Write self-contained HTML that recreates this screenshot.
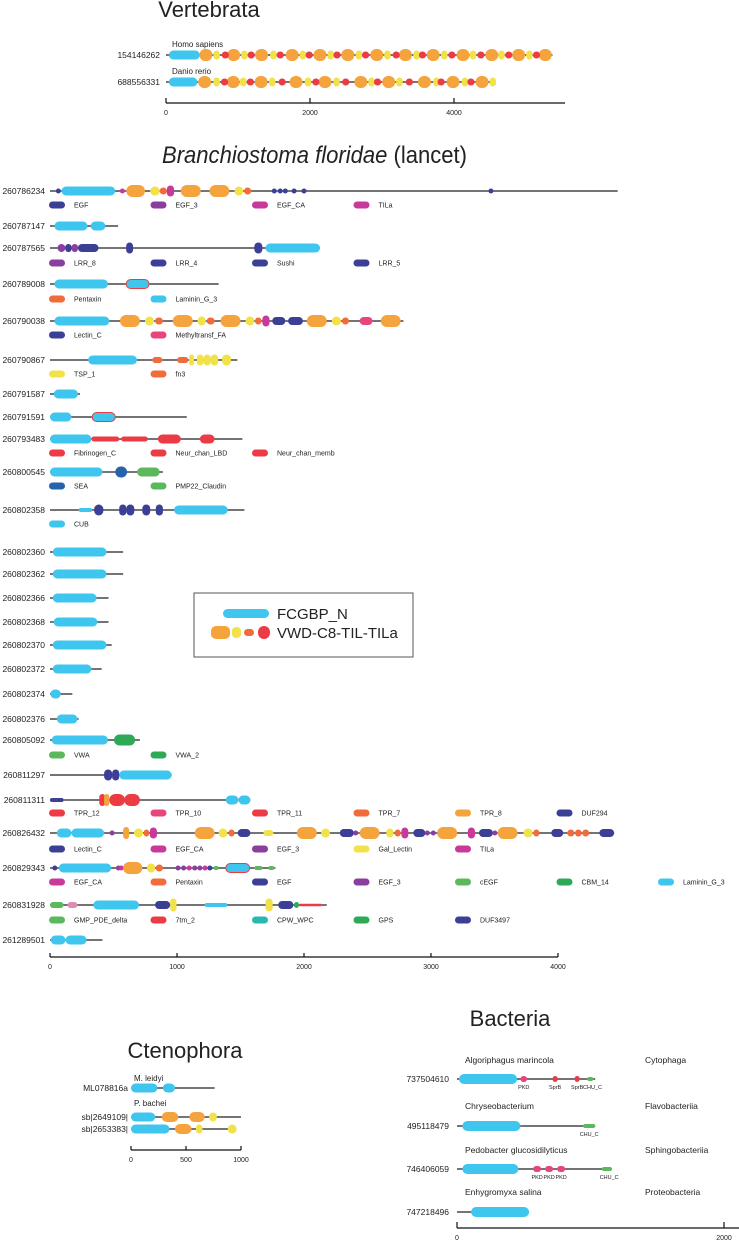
<!DOCTYPE html>
<html><head><meta charset="utf-8"><style>
html,body{margin:0;padding:0;background:#fff;}
svg{display:block;font-family:"Liberation Sans",Arial,sans-serif;}
</style></head><body>
<svg id="fig" width="739" height="1244" viewBox="0 0 739 1244" xmlns="http://www.w3.org/2000/svg">
<text x="209" y="17" font-size="22" text-anchor="middle" fill="#222">Vertebrata</text>
<text x="162" y="163" font-size="24" fill="#222" textLength="305" lengthAdjust="spacingAndGlyphs"><tspan font-style="italic">Branchiostoma floridae</tspan> (lancet)</text>
<text x="185" y="1058" font-size="22" text-anchor="middle" fill="#222">Ctenophora</text>
<text x="510" y="1026" font-size="22" text-anchor="middle" fill="#222">Bacteria</text>
<g>
<rect x="194" y="593" width="219" height="64" fill="#fff" stroke="#555" stroke-width="1"/>
<rect x="223" y="609" width="46" height="9" rx="4.5" fill="#3ec6ef"/>
<text x="277" y="619" font-size="15" fill="#222">FCGBP_N</text>
<rect x="211" y="626" width="19" height="13" rx="5" fill="#f5a33c"/>
<rect x="232" y="627" width="9" height="11" rx="4" fill="#f2e24a"/>
<rect x="244" y="629" width="10" height="7" rx="3.5" fill="#f26b3a"/>
<rect x="258" y="626" width="12" height="13" rx="6" fill="#ec3b44"/>
<text x="277" y="638" font-size="15" fill="#222">VWD-C8-TIL-TILa</text>
</g>
<g id="content"></g>
</svg>
<script>
// ---------- data ----------
const vertTicks = [0, 2000, 4000];
const homoLen = 5368;
const homoFCGBP = [[40, 470]];
const homoVWD = [554,940,1327,1752,2139,2525,2928,3325,3711,4125,4524,4898,5268];
const homoC8 = [703,1089,1492,1900,2287,2679,3076,3479,3865,4263,4660,5047];
const homoTILa = [824,1183,1586,1989,2375,2772,3197,3562,3970,4373,4760,5146];
const danioLen = 4583;
const danioFCGBP = [[40, 437]];
const danioVWD = [537,934,1321,1806,2209,2706,3093,3590,3987,4390];
const danioC8 = [703,1072,1475,1972,2370,2855,3242,3755,4152,4539];
const danioTILa = [813,1172,1613,2082,2496,2938,3380,3821,4235];

const lancetTicks = [0, 1000, 2000, 3000, 4000];
const lancetIds = ["260786234","260787147","260787565","260789008","260790038","260790867","260791587","260791591","260793483","260800545","260802358","260802360","260802362","260802366","260802368","260802370","260802372","260802374","260802376","260805092","260811297","260811311","260826432","260829343","260831928","261289501"];
const lancetLens = [4470,536,2126,1328,2783,1475,236,1077,1515,889,1531,576,576,461,461,486,407,176,226,708,958,1578,4442,1775,2179,413];
const lancetDomains = [
 [[66,66,"EGF"],[91,513,"F"],[570,570,"EGF_CA"],[601,748,"VWD"],[789,864,"C8"],[864,920,"TIL"],[920,977,"TILa_m"],[1030,1187,"VWD"],[1256,1412,"VWD"],[1453,1521,"C8"],[1528,1584,"TIL"],[1766,1766,"EGF"],[1813,1813,"EGF"],[1853,1853,"EGF"],[1922,1922,"EGF"],[2000,2000,"EGF"],[3472,3472,"EGF"]],
 [[35,295,"F"],[320,436,"F"]],
 [[60,120,"LRR8"],[120,170,"LRR4"],[170,220,"LRR8"],[220,382,"LRR4"],[600,654,"Sushi"],[1609,1672,"Sushi"],[1697,2126,"F"]],
 [[35,457,"F"],[600,780,"LamP"]],
 [[35,467,"F"],[551,708,"VWD"],[748,820,"C8"],[827,889,"TIL"],[967,1124,"VWD"],[1162,1227,"C8"],[1234,1296,"TIL"],[1343,1500,"VWD"],[1540,1609,"C8"],[1615,1665,"TIL"],[1672,1728,"TILa_m"],[1750,1853,"Lectin"],[1875,1991,"Lectin"],[2022,2179,"VWD"],[2219,2291,"C8"],[2298,2354,"TIL"],[2439,2539,"Methyl"],[2605,2761,"VWD"]],
 [[300,685,"F"],[805,885,"fn3"],[1000,1090,"fn3"],[1095,1135,"TSP"],[1155,1210,"TSP"],[1210,1265,"TSP"],[1265,1325,"TSP"],[1355,1425,"TSP"]],
 [[30,220,"F"]],
 [[0,169,"F"],[332,514,"LamP"]],
 [[0,326,"F"],[326,545,"Fib"],[560,770,"Fib"],[849,1030,"Neur"],[1180,1296,"Neur"]],
 [[0,413,"F"],[514,607,"SEA"],[686,864,"PMP22"]],
 [[226,332,"CUB"],[348,420,"Sushi"],[545,601,"Sushi"],[601,664,"Sushi"],[727,789,"Sushi"],[833,889,"Sushi"],[977,1399,"F"]],
 [[22,445,"F"]],
 [[22,445,"F"]],
 [[22,367,"F"]],
 [[29,373,"F"]],
 [[22,445,"F"]],
 [[22,326,"F"]],
 [[3,85,"F"]],
 [[54,216,"F"]],
 [[13,457,"F"],[504,670,"VWA2"]],
 [[426,489,"Sushi"],[489,545,"Sushi"],[545,958,"F"]],
 [[0,107,"DUF"],[388,435,"TPR"],[426,467,"TPR8"],[467,590,"TPR"],[585,708,"TPR"],[1384,1484,"F"],[1484,1578,"F"]],
 [[54,169,"F"],[169,426,"F"],[489,489,"EGF_3"],[576,623,"VWDs"],[661,733,"C8"],[739,780,"TIL"],[786,842,"TILa_m"],[1140,1296,"VWD"],[1328,1396,"C8"],[1406,1453,"TIL"],[1478,1578,"Lectin"],[1681,1759,"Gal"],[1944,2101,"VWD"],[2135,2204,"C8"],[2282,2392,"Lectin"],[2407,2407,"EGF_3"],[2439,2595,"VWD"],[2648,2705,"C8"],[2714,2761,"TIL"],[2767,2821,"TILa_m"],[2861,2955,"Lectin"],[2971,2971,"EGF_3"],[3018,3018,"EGF_3"],[3049,3206,"VWD"],[3290,3346,"TILa_m"],[3378,3487,"Lectin"],[3503,3503,"EGF_3"],[3525,3681,"VWD"],[3728,3800,"C8"],[3806,3853,"TIL"],[3947,4041,"Lectin"],[4073,4129,"TIL"],[4135,4185,"TIL"],[4191,4245,"TIL"],[4326,4442,"Lectin"]],
 [[38,38,"EGF"],[69,482,"F"],[539,539,"EGF_3"],[561,561,"EGF_CA"],[576,727,"VWD"],[764,827,"C8"],[833,889,"TIL"],[1008,1008,"EGF_3"],[1052,1052,"EGF_3"],[1096,1096,"EGF_CA"],[1140,1140,"EGF_3"],[1180,1180,"EGF_3"],[1221,1221,"EGF_CA"],[1259,1259,"EGF"],[1296,1321,"cEGF"],[1384,1572,"LamP"],[1609,1672,"cEGF"],[1719,1766,"cEGF"]],
 [[0,107,"GMP"],[138,216,"pinkS"],[341,701,"F"],[827,946,"DUF3497"],[946,996,"YT"],[1218,1396,"CPW"],[1697,1753,"YT"],[1797,1916,"DUF3497"],[1922,1960,"GPS"],[1960,2141,"7tm"]],
 [[6,122,"F"],[122,288,"F"]]
];
const lancetLegends = [
 [["EGF","dblue"],["EGF_3","purple"],["EGF_CA","magenta"],["TILa","magenta"]],
 null,
 [["LRR_8","purple"],["LRR_4","dblue"],["Sushi","dblue"],["LRR_5","dblue"]],
 [["Pentaxin","ored"],["Laminin_G_3","cyan"]],
 [["Lectin_C","dblue"],["Methyltransf_FA","pink"]],
 [["TSP_1","yellow"],["fn3","ored"]],
 null,null,
 [["Fibrinogen_C","red"],["Neur_chan_LBD","red"],["Neur_chan_memb","red"]],
 [["SEA","sea"],["PMP22_Claudin","green"]],
 [["CUB","cyan"]],
 null,null,null,null,null,null,null,null,
 [["VWA","green"],["VWA_2","green2"]],
 null,
 [["TPR_12","red"],["TPR_10","pink"],["TPR_11","red"],["TPR_7","ored"],["TPR_8","orange"],["DUF294","dblue"]],
 [["Lectin_C","dblue"],["EGF_CA","magenta"],["EGF_3","purple"],["Gal_Lectin","yellow"],["TILa","magenta"]],
 [["EGF_CA","magenta"],["Pentaxin","ored"],["EGF","dblue"],["EGF_3","purple"],["cEGF","green"],["CBM_14","green2"],["Laminin_G_3","cyan"]],
 [["GMP_PDE_delta","green"],["7tm_2","red"],["CPW_WPC","teal"],["GPS","green2"],["DUF3497","dblue"]],
 null
];

const ctenoTicks = [0, 500, 1000];
const ctenoIds = ["ML078816a","sb|2649109|","sb|2653383|"];
const ctenoLens = [760, 1000, 940];
const ctenoDomains = [
 [[0,240,"F"],[290,400,"F"]],
 [[0,220,"F"],[280,430,"VWDw"],[530,670,"VWDw"],[710,780,"C8"]],
 [[0,350,"F"],[400,550,"VWDw"],[590,650,"C8"],[880,960,"C8"]]
];

const bactTicks = [0, 2000];
const bactIds = ["737504610","495118479","746406059","747218496"];
const bactSpecies = ["Algoriphagus marincola","Chryseobacterium","Pedobacter glucosidilyticus","Enhygromyxa salina"];
const bactClass = ["Cytophaga","Flavobacteriia","Sphingobacteriia","Proteobacteria"];
const bactLens = [1035, 1035, 1160, 540];
const bactDomains = [
 [[15,450,"FB"],[475,525,"PKD"],[735,735,"SprB"],[900,900,"SprB"],[975,1020,"CHU"]],
 [[40,475,"FB"],[945,1035,"CHU"]],
 [[40,460,"FB"],[570,630,"PKD"],[660,720,"PKD"],[750,810,"PKD"],[1085,1160,"CHU"]],
 [[105,540,"FB"]]
];
const bactLabels = [
 [[500,"PKD"],[735,"SprB"],[900,"SprB"],[1015,"CHU_C"]],
 [[990,"CHU_C"]],
 [[600,"PKD"],[690,"PKD"],[780,"PKD"],[1140,"CHU_C"]],
 []
];

// ---------- styles ----------
const COL = {cyan:"#3ec6ef",orange:"#f5a33c",yellow:"#f2e24a",ored:"#f26b3a",red:"#ec3b44",magenta:"#c8399b",purple:"#8a3f9e",dblue:"#3b3f96",sea:"#2763ab",green:"#5cb85c",green2:"#2eaa57",pink:"#e8457f",teal:"#2ab7b0",lpink:"#e08ab8"};
const TYPE = {
 F:["cyan",9],FB:["cyan",10],VWD:["orange",12],VWDs:["orange",12],VWDw:["orange",10],C8:["yellow",9],TIL:["ored",7],TILa:["red",7],
 EGF:["dblue",5],EGF_3:["purple",5],EGF_CA:["magenta",5],TILa_m:["magenta",11],
 LRR8:["purple",8],LRR4:["dblue",8],Sushi:["dblue",11],Lectin:["dblue",8],LamP:["cyan",9,"#ec3b44"],
 Methyl:["pink",8],TSP:["yellow",11],fn3:["ored",6],Fib:["red",5],Neur:["red",9],SEA:["sea",11],PMP22:["green",9],
 CUB:["cyan",4],VWA2:["green2",11],TPR:["red",12],TPR8:["orange",12],DUF:["dblue",4],Gal:["yellow",6],cEGF:["green",4],
 GMP:["green",6],pinkS:["lpink",6],"7tm":["red",2.5],CPW:["cyan",4],GPS:["green2",6],DUF3497:["dblue",8],YT:["yellow",13],
 PKD:["pink",6],SprB:["red",6],CHU:["green",4]
};

const NS = "http://www.w3.org/2000/svg";
const root = document.getElementById("content");
function mk(tag, attrs, parent) {
  const e = document.createElementNS(NS, tag);
  for (const k in attrs) e.setAttribute(k, attrs[k]);
  (parent || root).appendChild(e);
  return e;
}
function txt(x, y, s, size, anchor, parent) {
  const t = mk("text", {x:x, y:y, "font-size":size, "text-anchor":anchor || "start", fill:"#222"}, parent);
  t.textContent = s;
  return t;
}
function drawDomain(g, X, y, d) {
  const ty = TYPE[d[2]];
  const h = ty[1];
  let x1 = X(d[0]), x2 = X(d[1]);
  if (x2 - x1 < 4) { const c = (x1 + x2) / 2; x1 = c - 2.5; x2 = c + 2.5; }
  const w = x2 - x1;
  const r = mk("rect", {x:x1, y:y - h/2, width:w, height:h, rx:Math.min(h/2, w/2), fill:COL[ty[0]]}, g);
  if (ty[2]) { r.setAttribute("stroke", ty[2]); r.setAttribute("stroke-width", "1"); }
  
  
}
function axis(x0, scale, y, ticks, x1end, name, tickDir) {
  const X = v => x0 + v * scale;
  const g = mk("g", {});
  
  
  const line = mk("line", {x1:x0, y1:y, x2:x1end, y2:y, stroke:"#111", "stroke-width":1.3}, g);
  
  
  ticks.forEach(t => {
    const tk = mk("line", {x1:X(t), y1:y, x2:X(t), y2:y + tickDir, stroke:"#111", "stroke-width":1.2}, g);
    
    
    const lb = txt(X(t), y + 12, String(t), 7, "middle", g);
    
    
  });
}
function row(X, y, id, len, doms, idX, startAA, name) {
  const g = mk("g", {});
  
  
  const l = txt(idX, y + 3, id, 8.5, "end", g);
  
  
  const ln = mk("line", {x1:X(startAA), y1:y, x2:X(len), y2:y, stroke:"#222", "stroke-width":1.3}, g);
  
  
  doms.forEach(d => drawDomain(g, X, y, d));
  return g;
}

// ---------- Vertebrata ----------
const VX = v => 166 + v * 0.072;
function vertRow(y, id, len, fc, vwd, c8, tila) {
  const doms = fc.map(d => [d[0], d[1], "F"])
    .concat(vwd.map(c => [c - 90, c + 90, "VWD"]))
    .concat(c8.map(c => [c - 45, c + 45, "C8"]))
    .concat(tila.map(c => [c - 50, c + 50, "TILa"]));
  return row(VX, y, id, len, doms, 160, 0, 'vertebrate-row-' + id);
}
vertRow(55, "154146262", homoLen, homoFCGBP, homoVWD, homoC8, homoTILa);
vertRow(82, "688556331", danioLen, danioFCGBP, danioVWD, danioC8, danioTILa);
let sl = txt(172, 47, "Homo sapiens", 8);


sl = txt(172, 74, "Danio rerio", 8);


axis(166, 0.072, 103, vertTicks, 565, 'vertebrata-x-axis', -5);

// ---------- Lancet ----------
const LX = v => 50 + v * 0.127;
const rowY = [191,226,248,284,321,360,394,417,439,472,510,552,574,598,622,645,669,694,719,740,775,800,833,868,905,940];
const legY = [205,null,263,299,335,374,null,null,453,486,524,null,null,null,null,null,null,null,null,755,null,813,849,882,920,null];
lancetIds.forEach((id, i) => {
  row(LX, rowY[i], id, lancetLens[i], lancetDomains[i], 45, 0, 'lancet-row-' + id);
  const lg = lancetLegends[i];
  if (lg) {
    const g = mk("g", {});
    
    
    lg.forEach((e, k) => {
      const x = 49 + k * 101.5;
      const sw = mk("rect", {x:x, y:legY[i] - 3.5, width:16, height:7, rx:3.5, fill:COL[e[1]]}, g);
      
      
      const t = txt(x + 25, legY[i] + 2.5, e[0], 7, "start", g);
      
      
    });
  }
});
axis(50, 0.127, 957, lancetTicks, 558, 'lancet-x-axis', -4);

// ---------- Ctenophora ----------
const CX = v => 131 + v * 0.11;
const ctY = [1088, 1117, 1129];
ctenoIds.forEach((id, i) => row(CX, ctY[i], id, ctenoLens[i], ctenoDomains[i], 128, 0, 'ctenophora-row-' + i));
sl = txt(134, 1081, "M. leidyi", 8);


sl = txt(134, 1106, "P. bachei", 8);


axis(131, 0.11, 1150, ctenoTicks, 241, 'ctenophora-x-axis', -4);

// ---------- Bacteria ----------
const BX = v => 457 + v * 0.1335;
const bY = [1079, 1126, 1169, 1212];
const bLabY = [1063, 1109, 1153, 1195];
bactIds.forEach((id, i) => {
  const g = row(BX, bY[i], id, bactLens[i], bactDomains[i], 449, 0, 'bacteria-row-' + id);
  let t = txt(465, bLabY[i], bactSpecies[i], 8.5, "start", g);
  
  
  t = txt(645, bLabY[i], bactClass[i], 8.5, "start", g);
  
  
  bactLabels[i].forEach(l => {
    const dl = txt(BX(l[0]), bY[i] + 10, l[1], 5.5, "middle", g);
    
    
  });
});
axis(457, 0.1335, 1228, bactTicks, 739, 'bacteria-x-axis', -6);
</script>
</body></html>
